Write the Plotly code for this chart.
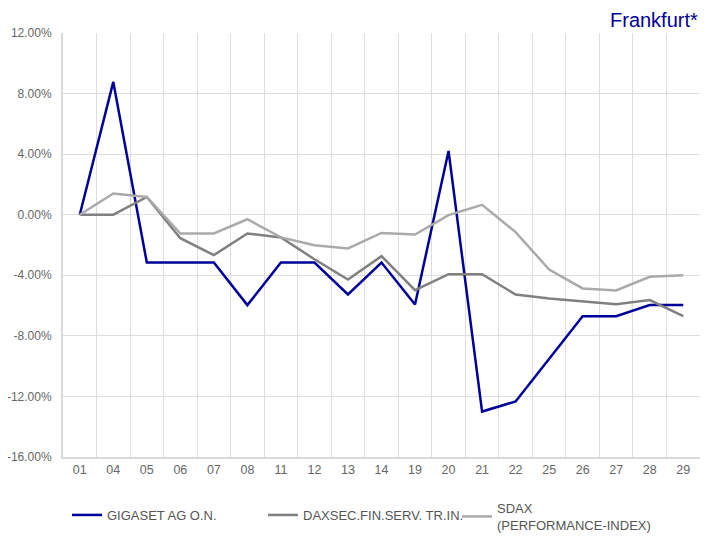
import plotly.graph_objects as go

categories = ["01", "04", "05", "06", "07", "08", "11", "12", "13", "14",
              "19", "20", "21", "22", "25", "26", "27", "28", "29"]
gigaset = [0.0, 8.77, -3.16, -3.16, -3.16, -5.97, -3.16, -3.16, -5.27, -3.16,
           -5.93, 4.21, -13.0, -12.33, -9.5, -6.70, -6.70, -5.97, -5.97]
daxsec = [0.0, 0.0, 1.17, -1.55, -2.67, -1.24, -1.5, -2.94, -4.28, -2.74,
          -4.98, -3.93, -3.93, -5.27, -5.53, -5.71, -5.91, -5.64, -6.70]
sdax = [0.0, 1.40, 1.17, -1.24, -1.24, -0.30, -1.5, -2.01, -2.23, -1.2,
        -1.31, -0.03, 0.65, -1.15, -3.62, -4.87, -5.0, -4.1, -4.0]
series_names = ["GIGASET AG O.N.", "DAXSEC.FIN.SERV. TR.IN.", "SDAX<br>(PERFORMANCE-INDEX)"]
series_colors = ["#000099", "#808080", "#aaaaaa"]
y_ticks = [-16, -12, -8, -4, 0, 4, 8, 12]

legend_ids = ["legend", "legend2", "legend3"]
legend_x = [0.0063, 0.314, 0.6185]
legend_y = [-0.1014, -0.1014, -0.085]

fig = go.Figure()
for name, vals, col, lid in zip(series_names, [gigaset, daxsec, sdax], series_colors, legend_ids):
    fig.add_trace(go.Scatter(x=categories, y=vals, mode="lines", name=name, legend=lid,
                             line=dict(color=col, width=2.5)))

legend_common = dict(orientation="h", xanchor="left", yanchor="top", itemwidth=30,
                     valign="middle", font=dict(size=13, color="#555555"),
                     bgcolor="rgba(0,0,0,0)")
fig.update_layout(
    width=709, height=532,
    margin=dict(l=55, r=17, t=25, b=83, autoexpand=False),
    plot_bgcolor="white", paper_bgcolor="white",
    font=dict(family="Liberation Sans, Arial, sans-serif", size=12, color="#666666"),
    showlegend=True,
    annotations=[dict(text="Frankfurt*", xref="paper", yref="paper", x=1.0, y=1.0,
                      xanchor="right", yanchor="bottom", yshift=0, showarrow=False,
                      font=dict(size=20, color="#000099"))],
)
for lid, lx, ly in zip(legend_ids, legend_x, legend_y):
    fig.update_layout({lid: dict(legend_common, x=lx, y=ly)})

fig.update_xaxes(type="category", range=[-0.5, len(categories) - 0.5],
                 tickson="boundaries", showgrid=True, gridcolor="#dddddd", gridwidth=1,
                 showline=True, linecolor="#d9d9d9", linewidth=2, ticks="", ticklen=0,
                 mirror=False, zeroline=False, automargin=False,
                 tickfont=dict(size=12.5))
fig.update_yaxes(range=[-16, 12], tickvals=y_ticks,
                 ticktext=[f"{v:.2f}%" for v in y_ticks],
                 showgrid=True, gridcolor="#dddddd", gridwidth=1,
                 showline=True, linecolor="#d9d9d9", linewidth=2, zeroline=False,
                 ticks="", ticklabelstandoff=7, automargin=False,
                 tickfont=dict(size=12))

fig.write_html("out.html")
